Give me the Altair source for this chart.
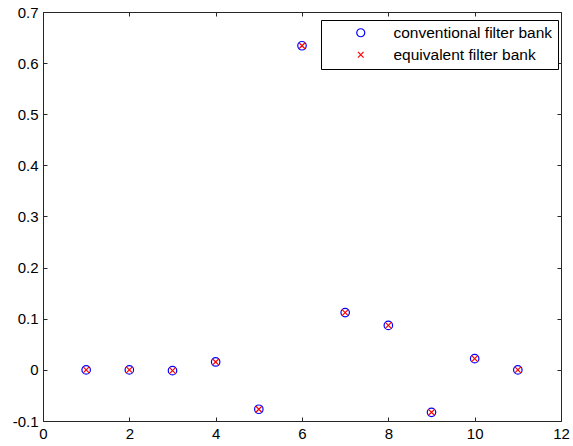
import altair as alt
import pandas as pd

# Sample index and the two filter-bank outputs
n_index = [1, 2, 3, 4, 5, 6, 7, 8, 9, 10, 11]
conventional = [0.0, 0.0, -0.0015, 0.0155, -0.077, 0.634, 0.112, 0.087, -0.083, 0.022, 0.0]
equivalent = [0.0, 0.0, -0.0015, 0.0155, -0.077, 0.634, 0.112, 0.087, -0.083, 0.022, 0.0]
series_names = ["conventional filter bank", "equivalent filter bank"]

# Axis ticks
x_ticks = [0, 2, 4, 6, 8, 10, 12]
y_ticks = [-0.1, 0.0, 0.1, 0.2, 0.3, 0.4, 0.5, 0.6, 0.7]

rows = []
for name, vals in zip(series_names, [conventional, equivalent]):
    for n, v in zip(n_index, vals):
        rows.append({"n": n, "value": v, "series": name})
df = pd.DataFrame(rows)

FONT = "Liberation Sans"
FRAME = "#262626"
CROSS = "M-0.7,-0.7L0.7,0.7M-0.7,0.7L0.7,-0.7"

x_scale = alt.Scale(domain=[0, 12], nice=False, zero=False)
y_scale = alt.Scale(domain=[-0.1, 0.7], nice=False, zero=False)

label_axis = dict(
    title=None, domain=False, ticks=False, grid=False, labelFlush=False,
    labelOverlap=False, labelFont=FONT, labelFontSize=15, labelColor="black",
    labelPadding=5,
)
minus_fix = "replace(format(datum.value, '~g'), '\u2212', '-')"

legend = alt.Legend(
    title=None, orient="none", legendX=278, legendY=8,
    strokeColor="black", fillColor="white", padding=5, cornerRadius=0,
    symbolOffset=27, labelOffset=25, rowPadding=5, symbolSize=64,
    symbolStrokeWidth=1.2, labelFont=FONT, labelFontSize=15.5, labelColor="black",
)

points = alt.Chart(df).mark_point(filled=False, size=72, strokeWidth=1.2, opacity=1).encode(
    x=alt.X("n:Q", scale=x_scale,
            axis=alt.Axis(values=x_ticks, orient="bottom", labelExpr=minus_fix, **label_axis)),
    y=alt.Y("value:Q", scale=y_scale,
            axis=alt.Axis(values=y_ticks, orient="left", labelExpr=minus_fix, **label_axis)),
    color=alt.Color("series:N", scale=alt.Scale(domain=series_names, range=["#0000ff", "#ff0000"]),
                    legend=legend),
    shape=alt.Shape("series:N", scale=alt.Scale(domain=series_names, range=["circle", CROSS]),
                    legend=legend),
)

# Inward-pointing ticks on all four sides
tick_axis = dict(
    title=None, labels=False, domain=False, grid=False, ticks=True,
    tickSize=4, tickWidth=1, tickColor=FRAME, offset=-4,
)

ticks_bottom_left = alt.Chart(df).mark_point(opacity=0).encode(
    x=alt.X("n:Q", scale=x_scale, axis=alt.Axis(values=x_ticks, orient="bottom", **tick_axis)),
    y=alt.Y("value:Q", scale=y_scale, axis=alt.Axis(values=y_ticks, orient="left", **tick_axis)),
)
ticks_top_right = alt.Chart(df).mark_point(opacity=0).encode(
    x=alt.X("n:Q", scale=x_scale, axis=alt.Axis(values=x_ticks, orient="top", **tick_axis)),
    y=alt.Y("value:Q", scale=y_scale, axis=alt.Axis(values=y_ticks, orient="right", **tick_axis)),
)

chart = (
    alt.layer(points, ticks_bottom_left, ticks_top_right)
    .resolve_axis(x="independent", y="independent")
    .properties(
        width=518, height=409,
        autosize=alt.AutoSizeParams(type="none"),
        padding={"left": 43, "top": 12, "right": 12, "bottom": 25},
        background="white",
    )
    .configure_view(stroke=FRAME, strokeWidth=1)
)

chart.save("out.html", embed_options={"renderer": "svg", "actions": False})
